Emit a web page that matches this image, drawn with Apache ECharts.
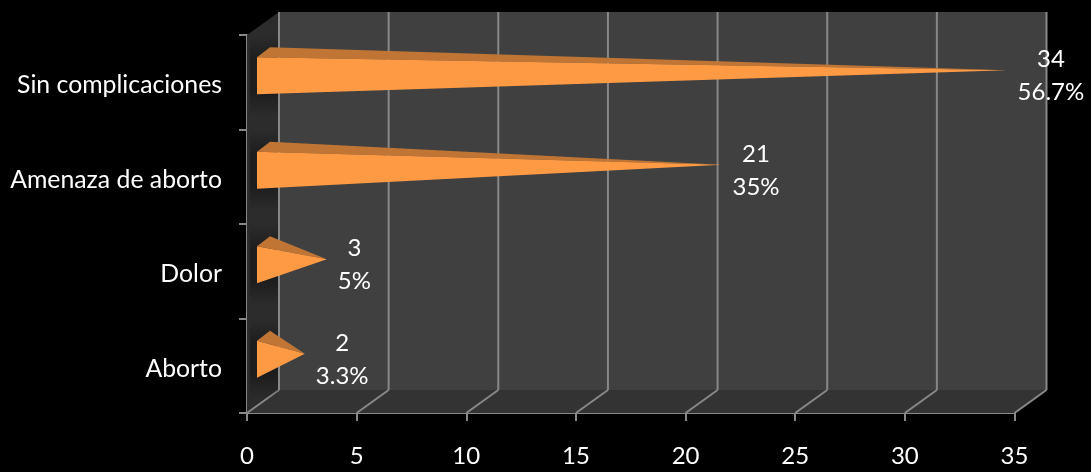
<!DOCTYPE html>
<html>
<head>
<meta charset="utf-8">
<style>html,body{margin:0;padding:0;background:#000}#chart{width:1091px;height:472px}</style>
<script src="https://cdn.jsdelivr.net/npm/echarts@6/dist/echarts.min.js"></script>
</head>
<body>
<div id="chart"></div>
<script>
// Complications during pregnancy: case counts and their share of the total
const categories = ['Aborto', 'Dolor', 'Amenaza de aborto', 'Sin complicaciones'];
const counts = [2, 3, 21, 34];
const shares = ['3.3%', '5%', '35%', '56.7%'];
const axisTicks = [0, 5, 10, 15, 20, 25, 30, 35];

// Oblique projection of the box: how far the back plane is shifted from the front
const DEPTH_X = 32, DEPTH_Y = -23;
const FONT = 'Lato, "Open Sans", sans-serif';
const FONT_SIZE = 24;
const LINE_COLOR = '#888888';

const chart = echarts.init(document.getElementById('chart'), null, {renderer: 'canvas'});
const measure = document.createElement('canvas').getContext('2d');
measure.font = FONT_SIZE + 'px ' + FONT;

const LINE = {stroke: LINE_COLOR, lineWidth: 2};

// Side wall, floor and back wall, with the grid lines running over them
function renderBox(params, api) {
  const rect = params.coordSys;
  const L = rect.x, R = rect.x + rect.width, T = rect.y, B = rect.y + rect.height;
  const children = [
    {type: 'polygon', shape: {points: [[L + DEPTH_X, T + DEPTH_Y], [R + DEPTH_X, T + DEPTH_Y], [R + DEPTH_X, B + DEPTH_Y], [L + DEPTH_X, B + DEPTH_Y]]}, style: {fill: '#404040'}},
    {type: 'polygon', shape: {points: [[L, B], [L + DEPTH_X, B + DEPTH_Y], [R + DEPTH_X, B + DEPTH_Y], [R, B]]}, style: {fill: '#333333'}},
    {type: 'polygon', shape: {points: [[L, T], [L + DEPTH_X, T + DEPTH_Y], [L + DEPTH_X, B + DEPTH_Y], [L, B]]},
      style: {fill: '#2c2c2c'}}
  ];
  axisTicks.forEach(function (t) {
    const x = api.coord([t, categories[0]])[0];
    children.push({type: 'line', shape: {x1: x + DEPTH_X, y1: T + DEPTH_Y, x2: x + DEPTH_X, y2: B + DEPTH_Y}, style: LINE});
    children.push({type: 'line', shape: {x1: x, y1: B, x2: x + DEPTH_X, y2: B + DEPTH_Y}, style: LINE});
  });
  return {type: 'group', children: children};
}

// One cone seen from the side: soft shadow on the wall, lit front face, darker top face,
// then the value and share beside the tip
function renderCone(params, api) {
  const value = api.value(0);
  const idx = api.value(1);
  const origin = api.coord([0, idx]);
  const tipBase = api.coord([value, idx]);
  const band = api.size([0, 1])[1];
  const half = band * 0.195;
  const cy = origin[1] - 6.5;
  const x0 = origin[0] + 10;
  const tip = [tipBase[0] + 14, origin[1] - 12];
  const share = shares[idx];
  const textW = Math.max(measure.measureText(String(value)).width, measure.measureText(share).width);
  const labelX = tip[0] + 11 + textW / 2;
  const labelY = tip[1] + 6;
  const shadow = new echarts.graphic.LinearGradient(0, 0, 0, 1, [
    {offset: 0, color: 'rgba(0,0,0,0)'},
    {offset: 0.3, color: 'rgba(0,0,0,0.34)'},
    {offset: 0.7, color: 'rgba(0,0,0,0.34)'},
    {offset: 1, color: 'rgba(0,0,0,0)'}
  ]);
  return {type: 'group', children: [
    {type: 'rect', shape: {x: origin[0] + 3, y: cy - half - 22, width: DEPTH_X - 4, height: 2 * half + 44}, style: {fill: shadow}},
    {type: 'polygon', shape: {points: [[x0, cy - half], [x0 + 13, cy - half - 10], tip]}, style: {fill: '#c07535'}},
    {type: 'polygon', shape: {points: [[x0, cy - half], [x0, cy + half], tip]}, style: {fill: '#ff9a44'}},
    {type: 'text', x: labelX, y: labelY, style: {
      text: value + '\n' + share, fill: '#ffffff', font: FONT_SIZE + 'px ' + FONT,
      align: 'center', verticalAlign: 'middle', lineHeight: 33
    }}
  ]};
}

chart.setOption({
  backgroundColor: '#000000',
  animation: false,
  grid: {left: 247, right: 76.5, top: 35, bottom: 59},
  xAxis: {
    type: 'value', min: 0, max: 35, interval: 5,
    splitLine: {show: false},
    axisLine: {show: true, lineStyle: {color: LINE_COLOR, width: 2}},
    axisTick: {show: true, length: 8, lineStyle: {color: LINE_COLOR, width: 2}},
    axisLabel: {color: '#ffffff', fontFamily: FONT, fontSize: FONT_SIZE, margin: 31}
  },
  yAxis: {
    type: 'category', data: categories,
    axisLine: {show: true, lineStyle: {color: LINE_COLOR, width: 2}},
    axisTick: {show: true, length: 8, lineStyle: {color: LINE_COLOR, width: 2}},
    axisLabel: {color: '#ffffff', fontFamily: FONT, fontSize: 24.8, margin: 25, verticalAlign: 'top', lineHeight: 6}
  },
  series: [
    {type: 'custom', renderItem: renderBox, data: [0], encode: {x: 0}, silent: true, clip: false, z: 1},
    {type: 'custom', renderItem: renderCone, data: counts.map(function (v, i) { return [v, i]; }), encode: {x: 0, y: 1}, clip: false, z: 2}
  ]
});
</script>
</body>
</html>
